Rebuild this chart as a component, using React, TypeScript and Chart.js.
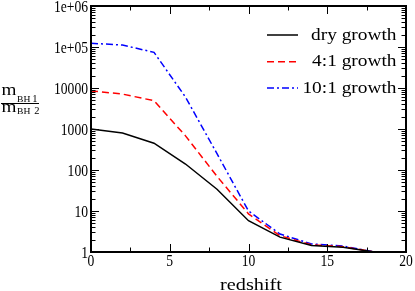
import React, { useEffect, useRef } from "react";
import { Chart, registerables } from "chart.js";

Chart.register(...registerables);

const redshift = [0, 2, 4, 6, 8, 10, 12, 14, 16, 18];
const dryGrowth = [1000, 800, 450, 140, 34, 5.8, 2.3, 1.45, 1.3, 1.0];
const growth4to1 = [8500, 7100, 4900, 680, 70, 8.5, 2.5, 1.5, 1.35, 1.0];
const growth10to1 = [123000, 112000, 74000, 6000, 250, 10, 2.75, 1.57, 1.4, 1.0];

const seriesNames = ["dry growth", "4:1 growth", "10:1 growth"];
const seriesColors = ["#000000", "#ff0000", "#0000ff"];
const seriesDashes: number[][] = [[], [7, 4], [7, 3, 2, 3]];

const yDecades = [1, 10, 100, 1000, 10000, 100000, 1000000];
const yTickLabels = ["1", "10", "100", "1000", "10000", "1e+05", "1e+06"];
const xTickValues = [0, 5, 10, 15, 20];
const xTickLabels = ["0", "5", "10", "15", "20"];
const xTitle = "redshift";

const SERIF = "'Liberation Serif', 'Times New Roman', serif";

function drawText(
  ctx: CanvasRenderingContext2D,
  s: string,
  x: number,
  y: number,
  size: number,
  sx: number,
  align: CanvasTextAlign
) {
  ctx.save();
  ctx.font = `${size}px ${SERIF}`;
  ctx.translate(x, y);
  ctx.scale(sx, 1);
  ctx.textAlign = align;
  ctx.textBaseline = "alphabetic";
  ctx.fillStyle = "#000";
  ctx.fillText(s, 0, 0);
  ctx.restore();
}

const framePlugin = {
  id: "frame",
  afterDraw(chart: any) {
    const ctx = chart.ctx as CanvasRenderingContext2D;
    const { left, right, top, bottom } = chart.chartArea;
    const xs = chart.scales.x;
    const ys = chart.scales.y;
    ctx.save();
    // frame
    ctx.strokeStyle = "#000";
    ctx.lineWidth = 2;
    ctx.setLineDash([]);
    ctx.strokeRect(left, top, right - left, bottom - top);
    // inward ticks
    ctx.lineWidth = 1;
    ctx.beginPath();
    for (let v = 0; v <= 20; v += 2.5) {
      const px = Math.round(xs.getPixelForValue(v)) + 0.5;
      const len = v % 5 === 0 ? 8 : 4.5;
      ctx.moveTo(px, bottom);
      ctx.lineTo(px, bottom - len);
      ctx.moveTo(px, top);
      ctx.lineTo(px, top + len);
    }
    for (let d = 0; d < 6; d++) {
      for (let m = 1; m <= 10; m++) {
        const val = m * Math.pow(10, d);
        const py = Math.round(ys.getPixelForValue(val)) + 0.5;
        const len = m === 1 || m === 10 ? 8 : 4.5;
        ctx.moveTo(left, py);
        ctx.lineTo(left + len, py);
        ctx.moveTo(right, py);
        ctx.lineTo(right - len, py);
      }
    }
    ctx.stroke();

    // tick labels
    yDecades.forEach((v, i) => {
      drawText(ctx, yTickLabels[i], left - 3, ys.getPixelForValue(v) + 5.5, 16, 0.85, "right");
    });
    xTickValues.forEach((v, i) => {
      drawText(ctx, xTickLabels[i], xs.getPixelForValue(v), bottom + 13.5, 16, 0.85, "center");
    });

    // legend
    const rows = [35, 61.7, 88];
    const textRight = 396.5;
    chart.data.datasets.forEach((ds: any, i: number) => {
      const y = rows[i];
      ctx.strokeStyle = ds.borderColor;
      ctx.lineWidth = 1.5;
      ctx.setLineDash(ds.borderDash || []);
      ctx.beginPath();
      ctx.moveTo(267, y);
      ctx.lineTo(298, y);
      ctx.stroke();
      ctx.setLineDash([]);
      drawText(ctx, ds.label, textRight, y + 4.7, 17.3, 1.12, "right");
    });

    // x title
    drawText(ctx, xTitle, (left + right) / 2 + 2.5, 290, 17.2, 1.18, "center");

    // y title (fraction)
    drawText(ctx, "m", 1.5, 95, 16, 1.2, "left");
    drawText(ctx, "m", 1.5, 112.3, 16, 1.2, "left");
    drawText(ctx, "BH", 17, 102.2, 8.2, 1.17, "left");
    drawText(ctx, "BH", 17, 114.3, 8.2, 1.17, "left");
    drawText(ctx, "1", 32.2, 101.6, 10.5, 1.0, "left");
    drawText(ctx, "2", 34.2, 114.3, 10.5, 1.0, "left");
    ctx.strokeStyle = "#000";
    ctx.lineWidth = 1;
    ctx.beginPath();
    ctx.moveTo(1, 103.5);
    ctx.lineTo(39, 103.5);
    ctx.stroke();
    ctx.restore();
  },
};

export default function App() {
  const ref = useRef<HTMLCanvasElement | null>(null);
  useEffect(() => {
    document.body.style.margin = "0";
    const canvas = ref.current;
    if (!canvas) return;
    const series = [dryGrowth, growth4to1, growth10to1];
    const chart = new Chart(canvas, {
      type: "line",
      data: {
        datasets: series.map((vals, i) => ({
          label: seriesNames[i],
          data: redshift.map((z, j) => ({ x: z, y: vals[j] })),
          borderColor: seriesColors[i],
          backgroundColor: seriesColors[i],
          borderDash: seriesDashes[i],
          borderWidth: 1.5,
          pointRadius: 0,
          fill: false,
          tension: 0,
        })),
      },
      options: {
        responsive: false,
        animation: false,
        devicePixelRatio: 1,
        layout: { padding: { left: 0, top: 6, right: 9, bottom: 0 } },
        plugins: { legend: { display: false }, tooltip: { enabled: false } },
        scales: {
          x: {
            type: "linear",
            min: 0,
            max: 20,
            afterBuildTicks: (s: any) => {
              s.ticks = xTickValues.map((v) => ({ value: v }));
            },
            ticks: { display: false },
            grid: { display: false, drawTicks: false },
            border: { display: false },
            afterFit: (s: any) => {
              s.height = 39;
              s.paddingLeft = 0;
              s.paddingRight = 0;
            },
          },
          y: {
            type: "logarithmic",
            min: 1,
            max: 1000000,
            afterBuildTicks: (s: any) => {
              s.ticks = yDecades.map((v) => ({ value: v }));
            },
            ticks: { display: false },
            grid: { display: false, drawTicks: false },
            border: { display: false },
            afterFit: (s: any) => {
              s.width = 91;
              s.paddingTop = 0;
              s.paddingBottom = 0;
            },
          },
        },
      },
      plugins: [framePlugin],
    });
    return () => chart.destroy();
  }, []);
  return (
    <div style={{ width: 415, height: 291 }}>
      <canvas ref={ref} width={415} height={291} style={{ display: "block" }} />
    </div>
  );
}
